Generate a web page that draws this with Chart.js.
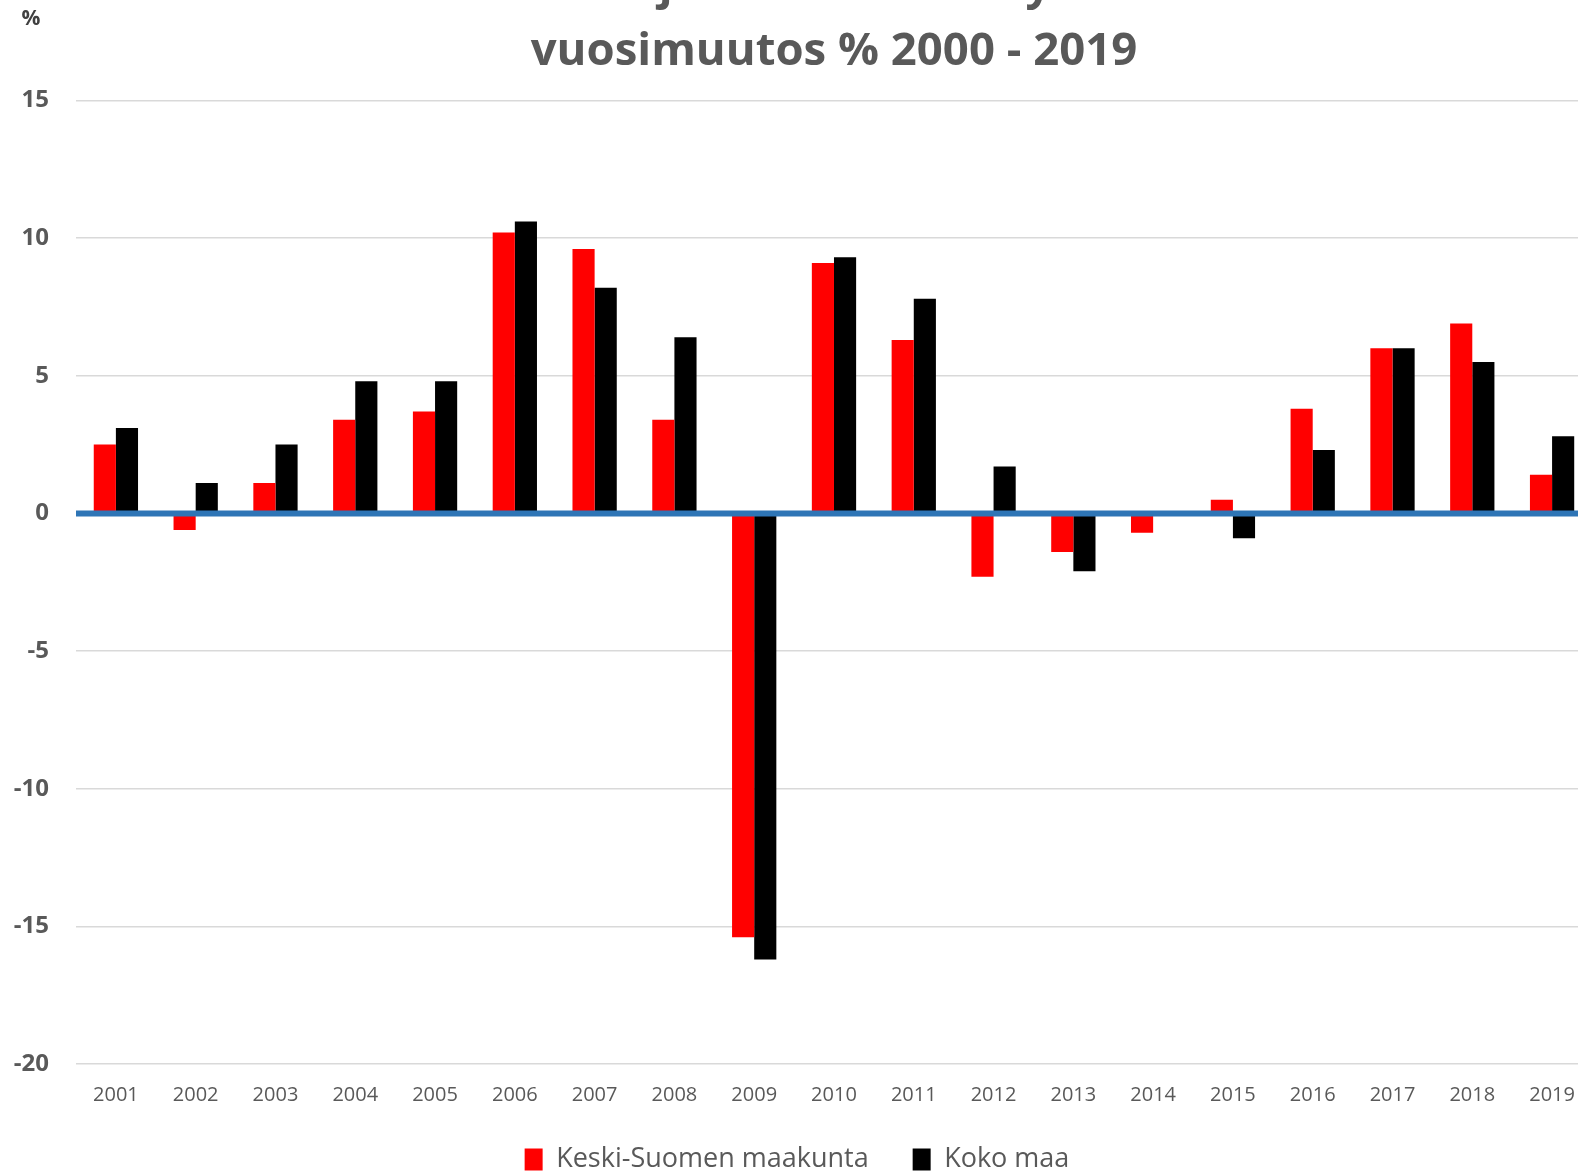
<!DOCTYPE html>
<html>
<head>
<meta charset="utf-8">
<script src="https://cdn.jsdelivr.net/npm/chart.js@4/dist/chart.umd.min.js"></script>
<style>
  html, body { margin: 0; padding: 0; background: #fff; overflow: hidden; width: 1578px; height: 1171px; }
  #wrap { position: absolute; left: 0; top: -60px; width: 1594px; height: 1243px; }
</style>
</head>
<body>
<div id="wrap"><canvas id="c" width="1594" height="1243"></canvas></div>
<script>
const titleLines = ['Keski-Suomen Aikajana 1/2020: Yritysten liikevaihdon', 'vuosimuutos % 2000 - 2019'];
const years = ['2001','2002','2003','2004','2005','2006','2007','2008','2009','2010','2011','2012','2013','2014','2015','2016','2017','2018','2019'];
const keskiSuomi = [2.5, -0.6, 1.1, 3.4, 3.7, 10.2, 9.6, 3.4, -15.4, 9.1, 6.3, -2.3, -1.4, -0.7, 0.5, 3.8, 6.0, 6.9, 1.4];
const kokoMaa = [3.1, 1.1, 2.5, 4.8, 4.8, 10.6, 8.2, 6.4, -16.2, 9.3, 7.8, 1.7, -2.1, 0, -0.9, 2.3, 6.0, 5.5, 2.8];
const seriesNames = ['Keski-Suomen maakunta', 'Koko maa'];
const yMin = -20, yMax = 15, yStep = 5;
const unitLabel = '%';

const extras = {
  id: 'extras',
  afterDatasetsDraw(chart) {
    const {ctx, chartArea, scales} = chart;
    const y0 = scales.y.getPixelForValue(0);
    ctx.save();
    ctx.strokeStyle = '#2E75B6';
    ctx.lineWidth = 6;
    ctx.beginPath();
    ctx.moveTo(chartArea.left, y0);
    ctx.lineTo(chartArea.right, y0);
    ctx.stroke();
    ctx.fillStyle = '#404040';
    ctx.font = 'bold 21px "Open Sans"';
    ctx.textAlign = 'center';
    ctx.textBaseline = 'middle';
    ctx.fillText(unitLabel, 31, 79);
    ctx.restore();
  }
};

new Chart(document.getElementById('c'), {
  type: 'bar',
  data: {
    labels: years,
    datasets: [
      { label: seriesNames[0], data: keskiSuomi, backgroundColor: '#FF0000', borderWidth: 0 },
      { label: seriesNames[1], data: kokoMaa, backgroundColor: '#000000', borderWidth: 0 }
    ]
  },
  options: {
    responsive: false,
    animation: false,
    events: [],
    datasets: { bar: { categoryPercentage: 0.555, barPercentage: 1.0 } },
    layout: { padding: 0 },
    plugins: {
      title: {
        display: true,
        fullSize: false,
        text: titleLines,
        color: '#595959',
        font: { family: '"Open Sans"', size: 45.5, weight: 'bold', lineHeight: 1.45 },
        padding: { top: 13, bottom: 15.5 }
      },
      legend: {
        position: 'bottom',
        labels: {
          color: '#595959',
          font: { family: '"Open Sans"', size: 27 },
          boxWidth: 18,
          boxHeight: 22,
          padding: 44
        }
      },
      tooltip: { enabled: false }
    },
    scales: {
      x: {
        grid: { display: false, drawTicks: false },
        border: { display: false },
        ticks: { color: '#595959', font: { family: '"Open Sans"', size: 20 }, padding: 19, maxRotation: 0 },
        afterFit(scale) { scale.height = 38; }
      },
      y: {
        min: yMin, max: yMax,
        grid: { color: '#D9D9D9', lineWidth: 1.5, drawTicks: false },
        border: { display: false },
        ticks: { stepSize: yStep, color: '#595959', font: { family: '"Open Sans"', size: 24, weight: 'bold' }, padding: 27 },
        afterFit(scale) { scale.width = 76; }
      }
    }
  },
  plugins: [extras]
});
</script>
</body>
</html>
